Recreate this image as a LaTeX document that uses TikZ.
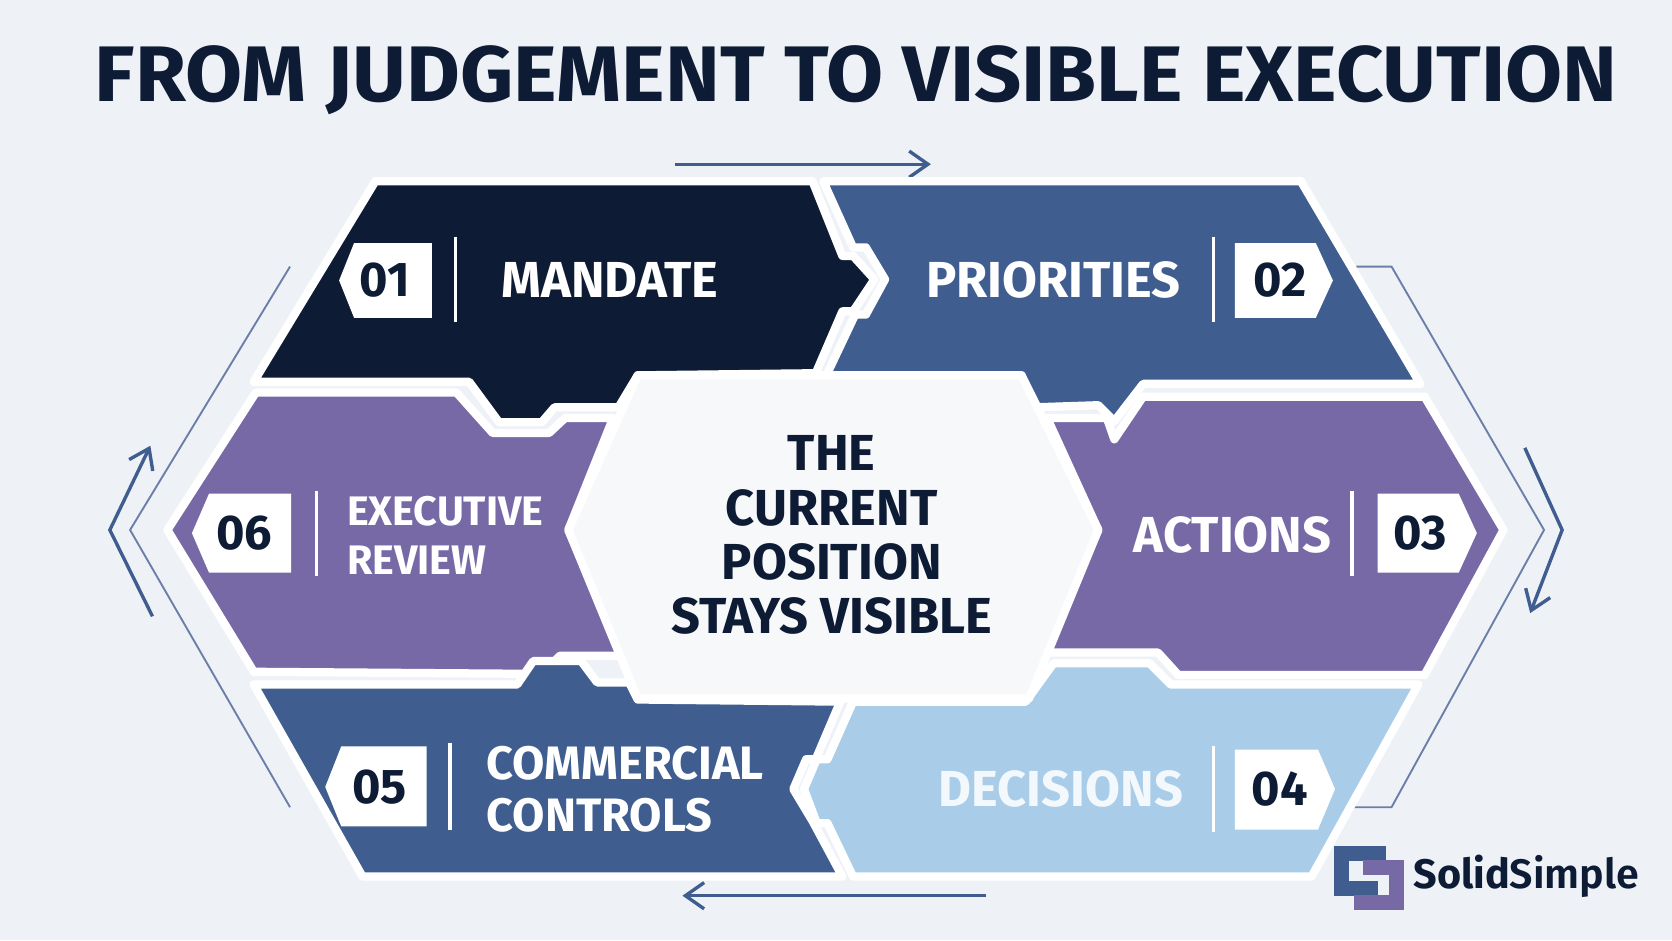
\documentclass[tikz,border=0pt]{standalone}
\usepackage{fontspec}
\setmainfont{Fira Sans}
\newfontfamily\lightfont{Fira Sans Light}
\usetikzlibrary{arrows.meta}
\definecolor{bgcol}{HTML}{EEF1F6}
\definecolor{navy}{HTML}{0D1B35}
\definecolor{steel}{HTML}{3F5E8F}
\definecolor{lilac}{HTML}{7669A6}
\definecolor{sky}{HTML}{A9CDE9}
\definecolor{guide}{HTML}{6A7FA8}
\tikzset{
	seg/.style={draw=white,line width=2.2pt,line join=round},
	lbl/.style={text=white,font=\bfseries\fontsize{13.5}{15}\selectfont,align=left},
	tag/.style={fill=white},
	num/.style={text=navy,font=\bfseries\fontsize{13}{15}\selectfont},
	sep/.style={draw=white,line width=0.9pt},
	guideline/.style={draw=guide,line width=0.5pt},
	flow/.style={draw=steel,line width=0.9pt,-{Straight Barb[length=5pt,width=7pt]}}
}
\begin{document}
\begin{tikzpicture}[x=0.01cm,y=-0.01cm]
	\fill[bgcol] (0,0) rectangle (1568,882);
	\useasboundingbox (0,0) rectangle (1568,882);

	\node (title) at (803,75) [text=navy,font=\bfseries\fontsize{21}{24}\selectfont,xscale=1.05] {FROM JUDGEMENT TO VISIBLE EXECUTION};

	% guides and flow arrows
	\draw[guideline] (272,250) -- (122,497) -- (272,757);
	\draw[guideline] (1272,250) -- (1305,250) -- (1448,497) -- (1305,757) -- (1270,757);
	\path (633,154) coordinate (topl);
	\path (873,154) coordinate (topr);
	\draw[flow] (topl) -- (topr);
	\path (925,840) coordinate (botr);
	\path (640,840) coordinate (botl);
	\draw[flow] (botr) -- (botl);
	\path (143,578) coordinate (lfb);
	\path (103,497) coordinate (lfm);
	\path (141,418) coordinate (lft);
	\draw[flow] (lfb) -- (lfm) -- (lft);
	\path (1430,420) coordinate (rtt);
	\path (1465,497) coordinate (rtm);
	\path (1435,575) coordinate (rtb);
	\draw[flow] (rtt) -- (rtm) -- (rtb);

	% segments
	\fill[navy,seg] (352,170) -- (762,170) -- (790,240) -- (800,240) -- (820,262) -- (800,292) -- (790,292) -- (765,350) -- (598,352) -- (580,382) -- (520,382) -- (508,396) -- (468,396) -- (440,358) -- (238,358) -- cycle;
	\fill[steel,seg] (772,170) -- (1220,170) -- (1332,360) -- (1072,360) -- (1045,395) -- (1030,380) -- (970,382) -- (958,352) -- (775,352) -- (802,295) -- (812,295) -- (830,262) -- (812,232) -- (800,232) -- cycle;
	\fill[lilac,seg] (240,368) -- (428,368) -- (462,406) -- (515,406) -- (530,392) -- (575,392) -- (533,497) -- (585,615) -- (525,615) -- (508,632) -- (238,630) -- (157,497) -- cycle;
	\fill[lilac,seg] (982,392) -- (1038,392) -- (1045,412) -- (1072,372) -- (1336,372) -- (1410,497) -- (1336,633) -- (1105,633) -- (1086,612) -- (978,612) -- (1030,497) -- cycle;
	\fill[steel,seg] (238,642) -- (485,642) -- (500,620) -- (545,620) -- (560,640) -- (590,640) -- (598,656) -- (788,658) -- (765,712) -- (756,712) -- (744,740) -- (762,770) -- (790,822) -- (340,822) -- cycle;
	\fill[sky,seg] (800,658) -- (962,658) -- (988,622) -- (1078,622) -- (1098,642) -- (1330,642) -- (1230,822) -- (800,822) -- (776,772) -- (766,772) -- (754,740) -- (766,712) -- (776,712) -- cycle;
	\fill[bgcol!50!white,seg] (598,352) -- (958,352) -- (1030,497) -- (965,655) -- (598,655) -- (533,497) -- cycle;

	% number tags
	\fill[tag] (332,228) -- (405,228) -- (405,298) -- (332,298) -- (318,263) -- cycle;
	\fill[tag] (1158,228) -- (1234,228) -- (1250,263) -- (1234,298) -- (1158,298) -- cycle;
	\fill[tag] (1292,463) -- (1368,463) -- (1385,500) -- (1368,537) -- (1292,537) -- cycle;
	\fill[tag] (1158,703) -- (1236,703) -- (1252,740) -- (1236,778) -- (1158,778) -- cycle;
	\fill[tag] (320,700) -- (400,700) -- (400,775) -- (320,775) -- (305,738) -- cycle;
	\fill[tag] (196,463) -- (273,463) -- (273,537) -- (196,537) -- (180,500) -- cycle;
	\node[num] (n01) at (361,263) {01};
	\node[num] (n02) at (1200,263) {02};
	\node[num] (n03) at (1332,500) {03};
	\node[num] (n04) at (1200,740) {04};
	\node[num] (n05) at (356,738) {05};
	\node[num] (n06) at (229,500) {06};

	% dividers
	\draw[sep] (427,222) -- (427,302);
	\draw[sep] (1138,222) -- (1138,302);
	\draw[sep] (1268,460) -- (1268,540);
	\draw[sep] (1138,700) -- (1138,780);
	\draw[sep] (422,697) -- (422,778);
	\draw[sep] (297,460) -- (297,540);

	% labels
	\node[lbl] (mandate) at (572,263) {MANDATE};
	\node[lbl] (priorities) at (988,263) {PRIORITIES};
	\node[lbl] (actions) at (1156,502) {ACTIONS};
	\node[lbl,text=white!85!sky] (decisions) at (995,740) {DECISIONS};
	\node[lbl,anchor=west,font=\bfseries\fontsize{11}{13}\selectfont] (review) at (313,502) {EXECUTIVE\\REVIEW};
	\node[lbl,anchor=west,font=\bfseries\fontsize{12.5}{14}\selectfont] (commercial) at (444,740) {COMMERCIAL\\CONTROLS};
	\node[text=navy,align=center,font=\bfseries\fontsize{13.5}{14.5}\selectfont] (centre) at (780,502) {THE\\CURRENT\\POSITION\\STAYS VISIBLE};

	% logo
	\draw[steel,line width=4pt] (1300,800) -- (1258,800) -- (1258,833) -- (1292,833);
	\draw[lilac,line width=4pt] (1270,846) -- (1310,846) -- (1310,814) -- (1278,814);
	\node[anchor=west,text=navy,inner sep=0pt] (logo) at (1325,822) {\fontsize{11}{13}\selectfont\bfseries Solid{\lightfont Simple}};
\end{tikzpicture}
\end{document}
